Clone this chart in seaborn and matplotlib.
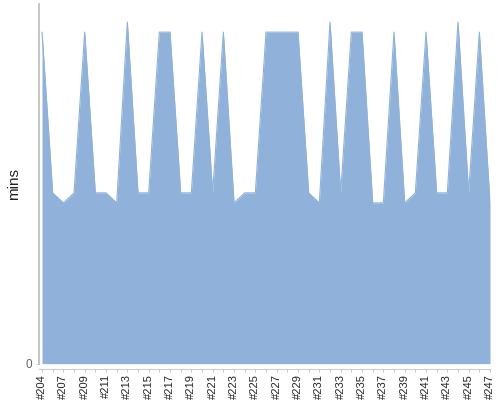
import numpy as np
import pandas as pd
import seaborn as sns
import matplotlib
matplotlib.use("Agg")
import matplotlib.pyplot as plt

# build ids: #204, #205, then #207..#247 (one id is skipped in the source)
build_ids = ["#204", "#205"] + ["#%d" % n for n in range(207, 248)]
mins = [33, 17, 16, 17, 33, 17, 17, 16, 34, 17,
        17, 33, 33, 17, 17, 33, 17, 33, 16, 17,
        17, 33, 33, 33, 33, 17, 16, 34, 17, 33,
        33, 16, 16, 33, 16, 17, 33, 17, 17, 34,
        17, 33, 16]

df = pd.DataFrame({"build": build_ids, "mins": mins})
df["pos"] = np.arange(len(df))

sns.set_style("white")
plt.rcParams["font.family"] = ["Liberation Sans", "DejaVu Sans"]
fill_color = "#8FB1DA"

fig = plt.figure(figsize=(5, 4), dpi=100)
ax = fig.add_axes([0.077, 0.091, 0.903, 0.899])

ax.fill_between(df["pos"], df["mins"], 0, color=fill_color, linewidth=0)
sns.lineplot(data=df, x="pos", y="mins", ax=ax, color=fill_color, linewidth=0.8)

ax.set_xlim(-0.33, len(df) - 1)
ax.set_ylim(0, 35.8)

# x ticks on every build, labels on every other one
ax.set_xticks(list(df["pos"]))
ax.set_xticklabels([b if i % 2 == 0 else "" for i, b in enumerate(df["build"])])
ax.set_yticks([0])
ax.set_yticklabels(["0"])
ax.tick_params(axis="x", length=2.5, width=0.6, color="#bbbbbb", pad=1,
               bottom=True, labelrotation=90, labelsize=8, labelcolor="#222222")
ax.tick_params(axis="y", length=2.5, width=0.6, color="#bbbbbb", pad=2,
               left=True, labelsize=8.5, labelcolor="#666666")

ax.set_xlabel("")
ax.set_ylabel("mins", fontsize=11, color="#222222", labelpad=3)

for side in ["top", "right"]:
    ax.spines[side].set_visible(False)
ax.spines["left"].set_color("#bbbbbb")
ax.spines["left"].set_linewidth(1.2)
ax.spines["bottom"].set_color("#cccccc")
ax.spines["bottom"].set_linewidth(0.8)
ax.spines["bottom"].set_position(("outward", 4))

fig.savefig("out.png", dpi=100)
